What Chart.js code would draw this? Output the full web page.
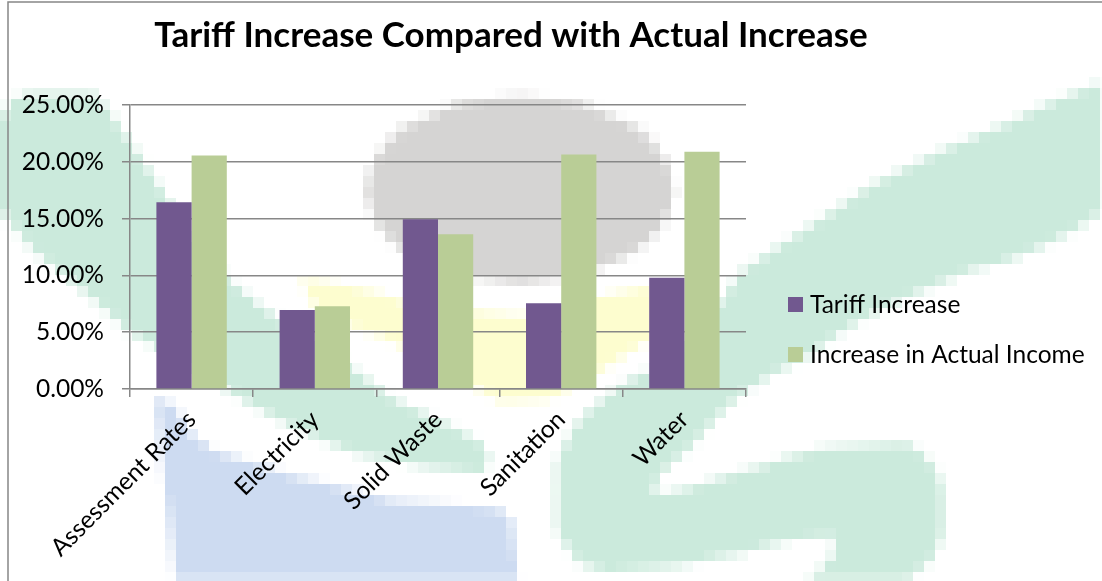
<!DOCTYPE html>
<html>
<head>
<meta charset="utf-8">
<title>Tariff Increase Compared with Actual Increase</title>
<script src="https://cdn.jsdelivr.net/npm/chart.js@4/dist/chart.umd.min.js"></script>
<style>
  html, body { margin: 0; padding: 0; background: #ffffff; }
  #chart { display: block; }
</style>
</head>
<body>
<canvas id="chart" width="1102" height="581"></canvas>
<script>
// ---- chart data ----
const categories = ['Assessment Rates', 'Electricity', 'Solid Waste', 'Sanitation', 'Water'];
const seriesNames = ['Tariff Increase', 'Increase in Actual Income'];
const tariffIncrease = [16.43, 6.95, 14.94, 7.54, 9.80];
const actualIncome = [20.56, 7.28, 13.62, 20.65, 20.89];
const yTickValues = [0, 5, 10, 15, 20, 25];
const chartTitle = 'Tariff Increase Compared with Actual Increase';

const FONT = 'Lato, "Open Sans", "DejaVu Sans", sans-serif';
const GRID = '#878787';
const COLORS = ['#71588F', '#B9CD96'];

// ---- faded logo behind the plot (coarse, blocky) ----
const backdropShapes = [
  { color: '#cbeadc', pts: [[0,120],[12,100],[30,93],[95,93],[110,112],[135,148],[160,188],[190,235],[227,277],[263,307],[300,333],[357,370],[393,400],[446,423],[482,443],[490,460],[482,472],[429,468],[357,454],[321,440],[286,423],[250,403],[229,390],[190,368],[150,345],[127,330],[97,303],[67,277],[33,250],[10,223],[0,210]] },
  { color: '#cbeadc', pts: [[1102,82],[1073,93],[1040,107],[1007,123],[973,137],[940,150],[907,167],[873,183],[840,207],[807,227],[773,250],[740,273],[726,293],[697,333],[665,363],[629,380],[610,393],[590,410],[577,423],[567,440],[557,463],[557,530],[567,547],[580,563],[607,573],[673,567],[743,553],[793,540],[833,537],[835,553],[823,567],[807,581],[907,581],[917,573],[933,557],[943,533],[943,490],[937,470],[923,453],[907,443],[823,447],[790,457],[757,467],[727,477],[693,487],[660,495],[653,490],[660,477],[673,463],[687,450],[707,430],[727,407],[747,390],[773,373],[807,357],[840,333],[873,313],[907,297],[940,283],[973,270],[1007,260],[1040,247],[1073,230],[1102,213]] },
  { color: '#fdfdcf', pts: [[300,278],[360,290],[420,305],[520,315],[600,298],[650,285],[655,335],[600,370],[550,400],[500,402],[440,365],[380,335],[320,315]] },
  { color: '#cddbf1', pts: [[154,400],[168,402],[179,413],[189,433],[214,450],[250,463],[293,477],[339,487],[393,500],[500,510],[512,520],[518,581],[176,581],[168,513],[157,413]] }
];
const backdropEllipse = { color: '#d5d4d3', cx: 520, cy: 190, rx: 153, ry: 93 };
const BLOCK = 11;

const backdropPlugin = {
  id: 'backdrop',
  beforeDraw(chart) {
    const W = chart.width, H = chart.height;
    const off = document.createElement('canvas');
    off.width = Math.ceil(W / BLOCK);
    off.height = Math.ceil(H / BLOCK);
    const o = off.getContext('2d');
    o.scale(1 / BLOCK, 1 / BLOCK);
    backdropShapes.forEach(s => {
      o.fillStyle = s.color;
      o.beginPath();
      s.pts.forEach((p, i) => i ? o.lineTo(p[0], p[1]) : o.moveTo(p[0], p[1]));
      o.closePath();
      o.fill();
    });
    o.fillStyle = backdropEllipse.color;
    o.beginPath();
    o.ellipse(backdropEllipse.cx, backdropEllipse.cy, backdropEllipse.rx, backdropEllipse.ry, 0, 0, Math.PI * 2);
    o.fill();

    const ctx = chart.ctx;
    ctx.save();
    ctx.fillStyle = '#ffffff';
    ctx.fillRect(0, 0, W, H);
    ctx.imageSmoothingEnabled = false;
    ctx.drawImage(off, 0, 0, off.width * BLOCK, off.height * BLOCK);
    ctx.restore();
  }
};

// ---- frame, title and legend ----
const decorPlugin = {
  id: 'decor',
  afterDraw(chart) {
    const ctx = chart.ctx;
    ctx.save();
    // outer frame (top and left edges)
    ctx.strokeStyle = GRID;
    ctx.lineWidth = 1.5;
    ctx.beginPath();
    ctx.moveTo(8, chart.height);
    ctx.lineTo(8, 2);
    ctx.lineTo(chart.width, 2);
    ctx.stroke();

    // title
    ctx.fillStyle = '#000000';
    ctx.font = 'bold 35px ' + FONT;
    ctx.textAlign = 'center';
    ctx.textBaseline = 'alphabetic';
    ctx.fillText(chartTitle, 511, 47);

    // legend
    ctx.font = '24.5px ' + FONT;
    ctx.textAlign = 'left';
    ctx.textBaseline = 'middle';
    chart.data.datasets.forEach((ds, i) => {
      const cy = 305 + i * 50;
      ctx.fillStyle = ds.backgroundColor;
      ctx.fillRect(788, cy - 8, 15, 15);
      ctx.fillStyle = '#000000';
      ctx.fillText(ds.label, 810, cy);
    });
    ctx.restore();
  }
};

Chart.defaults.font.family = FONT;

new Chart(document.getElementById('chart'), {
  type: 'bar',
  data: {
    labels: categories,
    datasets: [
      { label: seriesNames[0], data: tariffIncrease, backgroundColor: COLORS[0] },
      { label: seriesNames[1], data: actualIncome, backgroundColor: COLORS[1] }
    ]
  },
  options: {
    responsive: false,
    animation: false,
    devicePixelRatio: 1,
    layout: { padding: { left: 0, top: 105, right: 356, bottom: 0 } },
    datasets: { bar: { categoryPercentage: 2 / 3.5, barPercentage: 1 } },
    plugins: {
      legend: { display: false },
      title: { display: false },
      tooltip: { enabled: false }
    },
    scales: {
      x: {
        grid: { drawOnChartArea: false, offset: true, tickLength: 8, color: GRID, lineWidth: 1.5 },
        border: { color: GRID, width: 1.5 },
        ticks: { minRotation: 45, maxRotation: 45, autoSkip: false, padding: 8, color: '#000000', font: { size: 24.5 } },
        afterFit(scale) { scale.height = 192; scale.paddingLeft = 0; scale.paddingRight = 0; }
      },
      y: {
        min: 0,
        max: 25,
        afterBuildTicks(scale) { scale.ticks = yTickValues.map(v => ({ value: v })); },
        grid: { color: GRID, lineWidth: 1.5, tickLength: 8 },
        border: { color: GRID, width: 1.5 },
        ticks: { padding: 18, color: '#000000', font: { size: 24.5 }, callback: v => v.toFixed(2) + '%' },
        afterFit(scale) { scale.width = 130; scale.paddingTop = 0; scale.paddingBottom = 0; }
      }
    }
  },
  plugins: [backdropPlugin, decorPlugin]
});
</script>
</body>
</html>
